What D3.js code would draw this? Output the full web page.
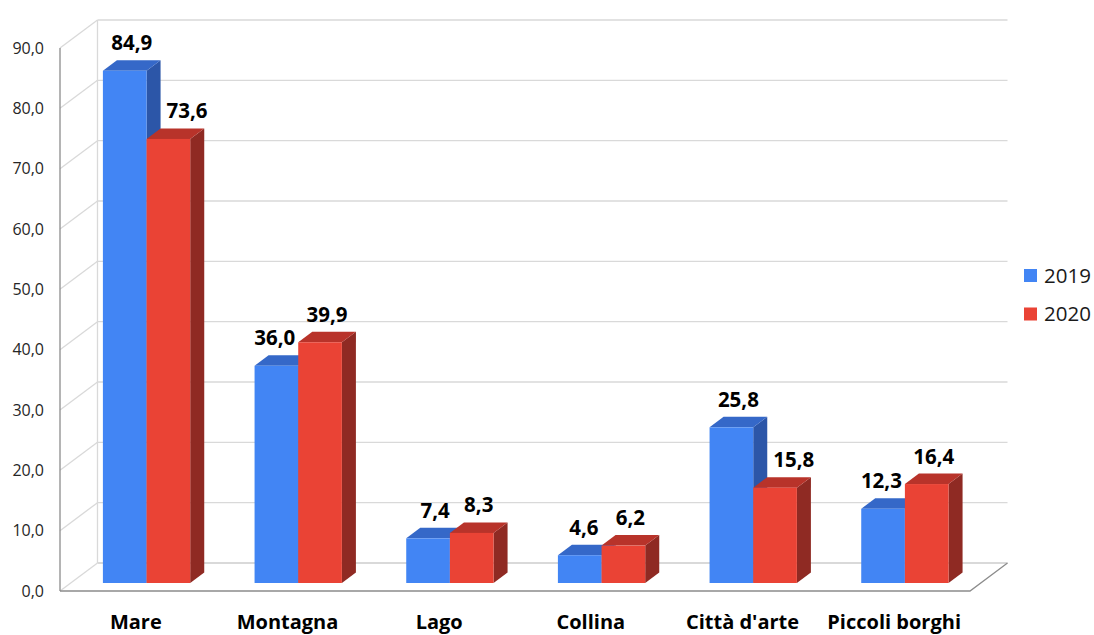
<!DOCTYPE html>
<html>
<head>
<meta charset="utf-8">
<script src="https://cdn.jsdelivr.net/npm/d3@7"></script>
<style>
  html, body { margin: 0; padding: 0; background: #fff; }
  svg { display: block; font-family: "Open Sans", "Noto Sans", sans-serif; }
</style>
</head>
<body>
<svg id="chart" width="1094" height="635"></svg>
<script>
// Destinazioni: confronto 2019 / 2020
const categories = ["Mare", "Montagna", "Lago", "Collina", "Città d'arte", "Piccoli borghi"];
const seriesNames = ["2019", "2020"];
const values2019 = [84.9, 36.0, 7.4, 4.6, 25.8, 12.3];
const values2020 = [73.6, 39.9, 8.3, 6.2, 15.8, 16.4];
const yTicks = [0, 10, 20, 30, 40, 50, 60, 70, 80, 90];

const seriesValues = [values2019, values2020];
const colors = {
  "2019": { front: "#4285f4", top: "#3568c8", side: "#2c56a8" },
  "2020": { front: "#ea4335", top: "#b8332a", side: "#8f2a23" }
};

const svg = d3.select("#chart");

// front plane of the 3D box
const x = d3.scaleBand().domain(categories).range([60, 970]);
const y = d3.scaleLinear().domain([0, 90]).range([591, 48]);
// full depth offset of the box (front → back wall)
const DX = 37.5, DY = -28;
const pt = (px, v, d) => [px + DX * d, y(v) + DY * d];

const inner = d3.scaleBand().domain(seriesNames).range([0, x.bandwidth()])
  .paddingInner(0).paddingOuter(0.737);

const fmt = d3.formatLocale({ decimal: ",", thousands: ".", grouping: [3], currency: ["€", ""] }).format(".1f");

// back wall gridlines and side diagonals
const grid = svg.append("g");
yTicks.forEach(t => {
  const a = pt(60, t, 0), b = pt(60, t, 1), c = pt(970, t, 1);
  grid.append("line").attr("x1", a[0]).attr("y1", a[1]).attr("x2", b[0]).attr("y2", b[1])
    .attr("stroke", "#d9d9d9").attr("stroke-width", 1.3);
  grid.append("line").attr("x1", b[0]).attr("y1", b[1]).attr("x2", c[0]).attr("y2", c[1])
    .attr("stroke", "#d9d9d9").attr("stroke-width", t === 0 ? 2 : 1.3);
});
// left edge of back wall
{
  const a = pt(60, 0, 1), b = pt(60, 90, 1);
  grid.append("line").attr("x1", a[0]).attr("y1", a[1]).attr("x2", b[0]).attr("y2", b[1])
    .attr("stroke", "#d9d9d9").attr("stroke-width", 1.3);
}

// floor front edge and right edge
{
  const a = pt(60, 0, 0), b = pt(970, 0, 0), c = pt(970, 0, 1);
  svg.append("path").attr("d", d3.line()([a, b, c]))
    .attr("fill", "none").attr("stroke", "#8c8c8c").attr("stroke-width", 1.3);
  // vertical axis line
  const t = pt(60, 90, 0);
  svg.append("line").attr("x1", a[0]).attr("y1", a[1]).attr("x2", t[0]).attr("y2", t[1])
    .attr("stroke", "#8c8c8c").attr("stroke-width", 1.3);
}

// y tick labels
svg.append("g").selectAll("text").data(yTicks).join("text")
  .attr("x", 44).attr("y", d => y(d))
  .attr("dy", "0.35em")
  .attr("text-anchor", "end")
  .attr("font-size", 16)
  .attr("fill", "#262626")
  .text(d => fmt(d));

// bars
const D0 = 0.286, D1 = 0.66;
const poly = pts => d3.line()(pts) + "Z";
const bars = [];
categories.forEach((c, i) => {
  seriesNames.forEach((s, j) => {
    bars.push({ cat: c, series: s, idx: j, value: seriesValues[j][i],
      x0: x(c) + inner(s), x1: x(c) + inner(s) + inner.bandwidth() });
  });
});

const barG = svg.append("g");
bars.forEach(b => {
  const g = barG.append("g");
  const col = colors[b.series];
  // side face
  g.append("path").attr("d", poly([pt(b.x1, 0, D0), pt(b.x1, 0, D1), pt(b.x1, b.value, D1), pt(b.x1, b.value, D0)]))
    .attr("fill", col.side);
  // top face
  g.append("path").attr("d", poly([pt(b.x0, b.value, D0), pt(b.x1, b.value, D0), pt(b.x1, b.value, D1), pt(b.x0, b.value, D1)]))
    .attr("fill", col.top);
  // front face
  const f0 = pt(b.x0, b.value, D0), f1 = pt(b.x1, 0, D0);
  g.append("rect").attr("x", f0[0]).attr("y", f0[1])
    .attr("width", f1[0] - f0[0]).attr("height", f1[1] - f0[1])
    .attr("fill", col.front);
});

// value labels: centred over the bar top, nudged sideways when the
// neighbouring bar of the pair is taller and would be covered
const labels = svg.append("g").selectAll("text").data(bars).join("text")
  .attr("y", b => pt(b.x0, b.value, D1)[1] - 10)
  .attr("text-anchor", "middle")
  .attr("font-size", 20.5)
  .attr("font-weight", 700)
  .attr("fill", "#000")
  .text(b => fmt(b.value));

labels.attr("x", function (b, i) {
  const w = this.getComputedTextLength();
  let cx = (pt(b.x0, b.value, D0)[0] + pt(b.x1, b.value, D1)[0]) / 2;
  const baseY = pt(b.x0, b.value, D1)[1] - 10;
  const nb = b.idx === 0 ? bars[i + 1] : bars[i - 1];
  const nbTop = pt(nb.x0, nb.value, D1)[1];
  if (nbTop < baseY + 4) {
    if (b.idx === 0) {
      const limit = pt(nb.x0, nb.value, D0)[0] - 3;
      if (cx + w / 2 > limit) cx = limit - w / 2;
    } else {
      const limit = pt(nb.x1, nb.value, D1)[0] + 6;
      if (cx - w / 2 < limit) cx = limit + w / 2;
    }
  }
  return cx;
});

// category labels
svg.append("g").selectAll("text").data(categories).join("text")
  .attr("x", c => x(c) + x.bandwidth() / 2)
  .attr("y", 629)
  .attr("text-anchor", "middle")
  .attr("font-size", 20)
  .attr("font-weight", 700)
  .attr("fill", "#000")
  .text(c => c);

// legend
const legend = svg.append("g").attr("transform", "translate(1024,269)");
seriesNames.forEach((s, i) => {
  const g = legend.append("g").attr("transform", `translate(0,${i * 38.5})`);
  g.append("rect").attr("width", 13).attr("height", 13).attr("fill", colors[s].front);
  g.append("text").attr("x", 20).attr("y", 6.5).attr("dy", "0.36em")
    .attr("font-size", 20.5).attr("fill", "#1a1a1a").text(s);
});
</script>
</body>
</html>
